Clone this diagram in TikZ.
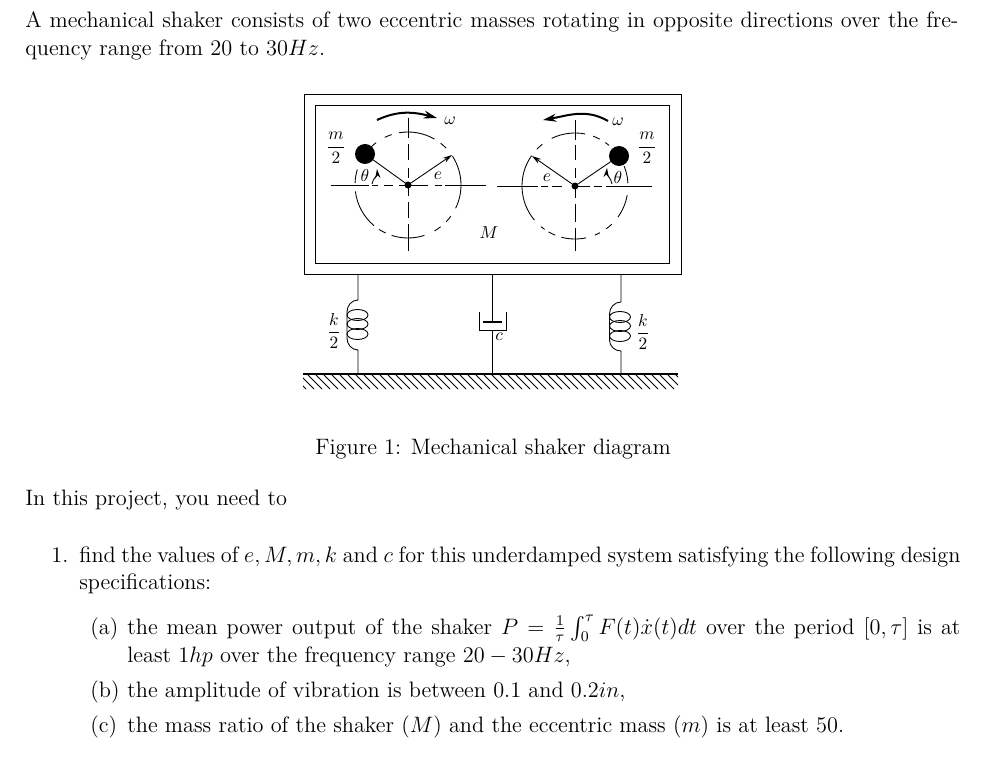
\documentclass[tikz,border=0pt]{standalone}
\usepackage{amsmath}
\usetikzlibrary{arrows.meta}
\tikzset{
	txt/.style={anchor=base west,inner sep=0pt,font=\fontsize{12}{14.5}\selectfont,scale=1.394,transform shape},
	lbl/.style={inner sep=0pt,font=\fontsize{10}{12}\selectfont,scale=1.3,transform shape},
	thin line/.style={line width=0.65pt},
	spin/.style={line width=1.5pt,-{Stealth[length=10pt,width=6pt]}},
	armtip/.style={line width=0.65pt,-{Stealth[length=7pt,width=4pt]}}
}
\newcommand{\fullline}[2]{\hbox to #1{#2}}
\begin{document}
\begin{tikzpicture}[x=0.75pt,y=0.75pt]
	\useasboundingbox (0,-762) rectangle (994,0);
	% text above the figure
	\node[txt] (introA) at (25,-28) {\fullline{502pt}{A mechanical shaker consists of two eccentric masses rotating in opposite directions over the fre-}};
	\node[txt] (introB) at (25,-56) {quency range from 20 to 30$Hz$.};
	% frames
	\coordinate (cL) at (408,-185);
	\coordinate (cR) at (575,-186);
	\coordinate (mL) at (365,-154);
	\coordinate (mR) at (619,-156);
	\draw[thin line] (304,-94) rectangle (681,-274);
	\draw[thin line] (315,-105) rectangle (669,-263);
	% rotors, left
	\foreach \a/\b in {100/60,52/44,33/-26,-36/-44,-52/-60,-72/-108,-115/-123,-130/-173,178/163,135/127,116/108}
		\draw[thin line] (cL) ++(\a:53) arc[start angle=\a,end angle=\b,radius=53];
	\foreach \a/\b in {331/369,372/378,384/393,399/405,408/428,435/442,445/486}
		\draw[thin line] (\a,-185) -- (\b,-185);
	\foreach \a/\b in {118/138,144/160,168/178,185/196,202/218,224/251}
		\draw[thin line] (408,-\a) -- (408,-\b);
	% rotors, right
	\foreach \a/\b in {116/79,70/62,55/50,22/3,-10/-36,-46/-54,-62/-68,-78/-105,-112/-120,-125/-130,-140/-215,136/128}
		\draw[thin line] (cR) ++(\a:53) arc[start angle=\a,end angle=\b,radius=53];
	\foreach \a/\b in {497/538,541/548,552/562,575/590,594/602,606/652}
		\draw[thin line] (\a,-186) -- (\b,-186);
	\foreach \a/\b in {120/140,145/160,168/178,186/198,204/222,228/251}
		\draw[thin line] (575,-\a) -- (575,-\b);
	% masses and arms
	\fill (mL) circle[radius=10];
	\fill (mR) circle[radius=10];
	\fill (cL) circle[radius=3.5];
	\fill (cR) circle[radius=3.5];
	\draw[thin line] (cL) -- (mL);
	\draw[thin line] (cR) -- (mR);
	\coordinate (eL) at (452,-155);
	\coordinate (eR) at (532,-156);
	\draw[armtip] (cL) -- (eL);
	\draw[armtip] (cR) -- (eR);
	\coordinate (thL) at (372,-184);
	\coordinate (thLb) at (377,-169);
	\coordinate (thR) at (612,-184);
	\coordinate (thRb) at (607,-168);
	\draw[armtip] (thL) to [out=80,in=-85] (thLb);
	\draw[armtip] (thR) to [out=100,in=-95] (thRb);
	% direction of spin
	\coordinate (spLa) at (377,-120);
	\coordinate (spLb) at (437,-118);
	\coordinate (spRa) at (608,-121);
	\coordinate (spRb) at (543,-120);
	\draw[spin] (spLa) to [out=25,in=165] (spLb);
	\draw[spin] (spRa) to [out=150,in=10] (spRb);
	\node[lbl] (wL) at (450,-121) {$\omega$};
	\node[lbl] (wR) at (618,-122) {$\omega$};
	\node[lbl] (mhL) at (336,-148) {$\displaystyle\frac{m}{2}$};
	\node[lbl] (mhR) at (647,-148) {$\displaystyle\frac{m}{2}$};
	\node[lbl] (angL) at (365,-175) {$\theta$};
	\node[lbl] (angR) at (618,-177) {$\theta$};
	\node[lbl] (ecL) at (438,-176) {$e$};
	\node[lbl] (ecR) at (547,-178) {$e$};
	\node[lbl] (bigM) at (489,-233) {$M$};
	% left spring
	\coordinate (kLt) at (358,-274);
	\coordinate (kLb) at (358,-374);
	\draw[thin line] (kLt) -- (358,-300) to [out=180,in=90] (347,-312) -- (347,-338) to [out=-90,in=180] (358,-350) -- (kLb);
	\foreach \y in {315,324,334}
		\draw[thin line] (357.5,-\y) ellipse[x radius=10.5,y radius=5.5];
	\node[lbl] (khL) at (334,-331) {$\displaystyle\frac{k}{2}$};
	% right spring
	\coordinate (kRt) at (621,-274);
	\coordinate (kRb) at (621,-374);
	\draw[thin line] (kRt) -- (621,-302) to [out=180,in=90] (609.5,-314) -- (609.5,-340) to [out=-90,in=180] (621,-351) -- (kRb);
	\foreach \y in {317,326,336}
		\draw[thin line] (620,-\y) ellipse[x radius=10.5,y radius=5.5];
	\node[lbl] (khR) at (643,-332) {$\displaystyle\frac{k}{2}$};
	% damper
	\coordinate (dTop) at (492,-274);
	\coordinate (dPis) at (492,-322);
	\coordinate (dCyl) at (492,-330);
	\coordinate (dGnd) at (492,-374);
	\draw[thin line] (dTop) -- (dPis);
	\draw[line width=1pt] (483,-322) -- (502,-322);
	\draw[thin line] (479,-312) -- (479,-330) -- (506,-330) -- (506,-312);
	\draw[thin line] (dCyl) -- (dGnd);
	\node[lbl] (cDamp) at (499,-337) {$c$};
	% ground
	\draw[line width=1pt] (303,-374) -- (678,-374);
	\begin{scope}
		\clip (303,-374) rectangle (678,-389);
		\foreach \x in {291,299,...,675}
			\draw[line width=0.6pt] (\x,-374) -- ++(15,-15);
	\end{scope}
	% text below the figure
	\node[txt] (caption) at (315,-454) {Figure 1: Mechanical shaker diagram};
	\node[txt] (project) at (25,-505) {In this project, you need to};
	\node[txt] (numOne) at (51,-562) {1.};
	\node[txt] (itemA) at (79,-562) {\fullline{474pt}{find the values of $e,M,m,k$ and $c$ for this underdamped system satisfying the following design}};
	\node[txt] (itemB) at (79,-589) {specifications:};
	\node[txt] (letA) at (90,-634) {(a)};
	\node[txt] (subA) at (127,-634) {\fullline{448.2pt}{the mean power output of the shaker $P=\frac{1}{\tau}\int_0^\tau F(t)\dot{x}(t)dt$ over the period $[0,\tau]$ is at}};
	\node[txt] (subAb) at (127,-662) {least 1$hp$ over the frequency range $20-30Hz$,};
	\node[txt] (letB) at (90,-697) {(b)};
	\node[txt] (subB) at (127,-697) {the amplitude of vibration is between 0.1 and 0.2$in$,};
	\node[txt] (letC) at (90,-732) {(c)};
	\node[txt] (subC) at (127,-732) {the mass ratio of the shaker $(M)$ and the eccentric mass $(m)$ is at least 50.};
\end{tikzpicture}
\end{document}
